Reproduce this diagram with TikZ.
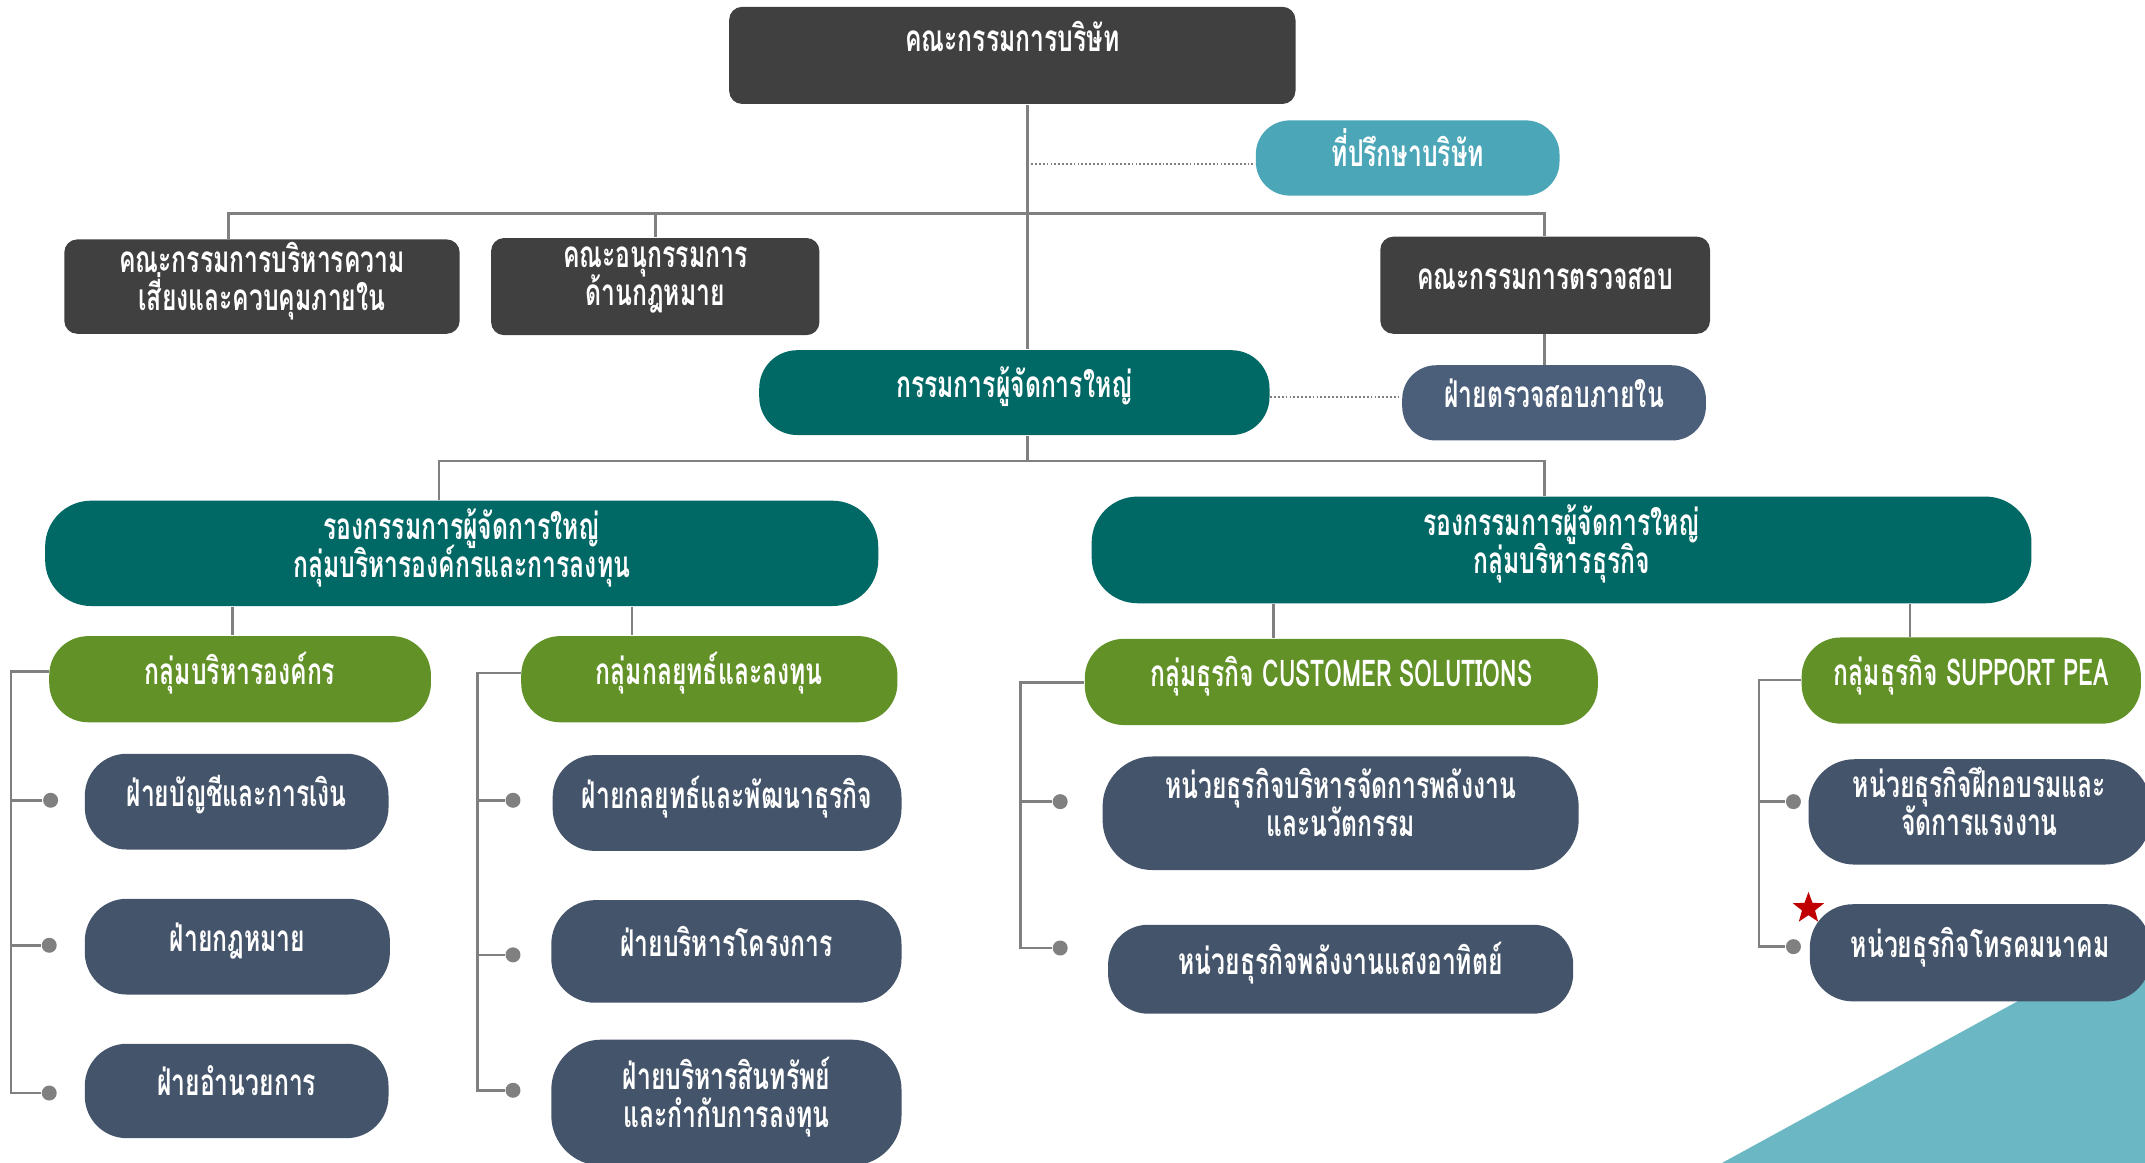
\documentclass[tikz,border=0pt]{standalone}
\usepackage{fontspec}
\newfontfamily\thaifont[Script=Thai,FakeStretch=0.67]{Loma}
\newfontfamily\latinfont[FakeStretch=0.62]{Loma}
\usetikzlibrary{shapes.geometric}

\definecolor{boardgray}{HTML}{404040}
\definecolor{advisorteal}{HTML}{4BA7B8}
\definecolor{gmteal}{HTML}{006865}
\definecolor{groupgreen}{HTML}{629128}
\definecolor{unitslate}{HTML}{44546A}
\definecolor{auditslate}{HTML}{4B5F7A}
\definecolor{linegray}{HTML}{808080}
\definecolor{cornerteal}{HTML}{6BB7C3}
\definecolor{starred}{HTML}{C00000}

\newcommand\ux{0.01368cm}
\newcommand\toppad{\vrule width 0pt height 8.5pt depth 0pt\relax}
\newcommand\botpad{\vrule width 0pt height 0pt depth 6pt\relax}

\tikzset{
  sz/.style 2 args={minimum width=#1*\ux, minimum height=#2*\ux},
  org/.style={text=white, align=center, inner sep=0pt,
    font=\thaifont\bfseries\fontsize{10.5}{10.9}\selectfont,
    execute at begin node={\lineskiplimit=-20pt\relax\toppad}, execute at end node={\botpad}},
  board/.style={org, fill=boardgray, rounded corners=0.13cm},
  pill/.style={org, rounded corners=#1},
  link/.style={draw=linegray, line width=0.7pt},
  dotlink/.style={draw=linegray, line width=0.5pt, dash pattern=on 0.5pt off 0.6pt},
  knob/.style={circle, fill=linegray, inner sep=0pt, minimum size=0.15cm},
}

\begin{document}
\begin{tikzpicture}[x=\ux, y=-\ux]
        \useasboundingbox[fill=white] (0,0) rectangle (1568,850);

        % corner decoration
        \fill[cornerteal] (1259,850) -- (1568,681) -- (1568,850) -- cycle;

        % Board and advisors
        \node[board, sz={414}{71}] (board) at (740,40.5) {};
        \node[org] (boardtxt) at (740,34) {คณะกรรมการบริษัท};
        \node[pill=0.34cm, fill=advisorteal, sz={222}{55}] (advisor) at (1029,115.5) {ที่ปรึกษาบริษัท};

        % Committees
        \node[board, sz={289}{69}] (riskcom) at (191.5,209.5) {คณะกรรมการบริหารความ\\เสี่ยงและควบคุมภายใน};
        \node[board, sz={240}{71}] (lawcom) at (479,209.5) {คณะอนุกรรมการ\\ด้านกฎหมาย};
        \node[board, sz={241}{71}] (auditcom) at (1129.5,208.5) {คณะกรรมการตรวจสอบ};
        \node[pill=0.34cm, fill=auditslate, sz={222}{55}] (audit) at (1136,294.5) {ฝ่ายตรวจสอบภายใน};

        % President
        \node[pill=0.38cm, fill=gmteal, sz={373}{62}] (gm) at (741.5,287) {กรรมการผู้จัดการใหญ่};

        % Vice presidents
        \node[pill=0.46cm, fill=gmteal, sz={609}{77}] (vp1) at (337.5,404.5) {รองกรรมการผู้จัดการใหญ่\\กลุ่มบริหารองค์กรและการลงทุน};
        \node[pill=0.46cm, fill=gmteal, sz={687}{78}] (vp2) at (1141.5,402) {รองกรรมการผู้จัดการใหญ่\\กลุ่มบริหารธุรกิจ};

        % Groups
        \node[pill=0.39cm, fill=groupgreen, sz={279}{63}] (g1) at (175.5,496.5) {กลุ่มบริหารองค์กร};
        \node[pill=0.39cm, fill=groupgreen, sz={275}{63}] (g2) at (518.5,496.5) {กลุ่มกลยุทธ์และลงทุน};
        \node[pill=0.39cm, fill=groupgreen, sz={375}{63}] (g3) at (980.5,498.5) {กลุ่มธุรกิจ {\latinfont CUSTOMER SOLUTIONS}};
        \node[pill=0.39cm, fill=groupgreen, sz={248}{63}] (g4) at (1441,497.5) {กลุ่มธุรกิจ {\latinfont SUPPORT PEA}};

        % Departments and business units
        \node[pill=0.42cm, fill=unitslate, sz={222}{70}] (u11) at (173,586) {ฝ่ายบัญชีและการเงิน};
        \node[pill=0.42cm, fill=unitslate, sz={223}{70}] (u12) at (173.5,692) {ฝ่ายกฎหมาย};
        \node[pill=0.42cm, fill=unitslate, sz={222}{69}] (u13) at (173,797.5) {ฝ่ายอำนวยการ};
        \node[pill=0.42cm, fill=unitslate, sz={255}{70}] (u21) at (531.5,587) {ฝ่ายกลยุทธ์และพัฒนาธุรกิจ};
        \node[pill=0.44cm, fill=unitslate, sz={256}{75}] (u22) at (531,695.5) {ฝ่ายบริหารโครงการ};
        \node[pill=0.5cm, fill=unitslate, sz={256}{92}] (u23) at (531,806) {ฝ่ายบริหารสินทรัพย์\\และกำกับการลงทุน};
        \node[pill=0.5cm, fill=unitslate, sz={348}{83}] (u31) at (980,594.5) {หน่วยธุรกิจบริหารจัดการพลังงาน\\และนวัตกรรม};
        \node[pill=0.4cm, fill=unitslate, sz={340}{65}] (u32) at (980,708.5) {หน่วยธุรกิจพลังงานแสงอาทิตย์};
        \node[pill=0.46cm, fill=unitslate, sz={250}{77}] (u41) at (1447,593.5) {หน่วยธุรกิจฝึกอบรมและ\\จัดการแรงงาน};
        \node[pill=0.43cm, fill=unitslate, sz={249}{71}] (u42) at (1447.5,696.5) {หน่วยธุรกิจโทรคมนาคม};

        % knobs on the rails
        \node[knob] (d11) at (37,585) {};
        \node[knob] (d12) at (36,691) {};
        \node[knob] (d13) at (36,799) {};
        \node[knob] (d21) at (375,585) {};
        \node[knob] (d22) at (375,698) {};
        \node[knob] (d23) at (375,797) {};
        \node[knob] (d31) at (775,586) {};
        \node[knob] (d32) at (775,693) {};
        \node[knob] (d41) at (1311,586) {};
        \node[knob] (d42) at (1311,692) {};

        % red star
        \node[star, star points=5, star point ratio=2.4, fill=starred, inner sep=0pt, minimum size=24*\ux] (mark) at (1322,664) {};

        % junction points
        \coordinate (trunk) at (751,156);
        \coordinate (j1) at (167,156);
        \coordinate (j2) at (479,156);
        \coordinate (j3) at (1129,156);
        \coordinate (bar) at (751,337);
        \coordinate (b1) at (321,337);
        \coordinate (b2) at (1129,337);
        \coordinate (k1) at (170,450);
        \coordinate (k2) at (462,450);
        \coordinate (k3) at (931,450);
        \coordinate (k4) at (1396,450);
        \coordinate (r1) at (8,491);
        \coordinate (r2) at (349,492);
        \coordinate (r3) at (746,499);
        \coordinate (r4) at (1286,497);

        % upper tree
        \draw[link] (board.south -| trunk) -- (gm.north -| trunk);
        \draw[link] (j1 |- riskcom.north) -- (j1) -- (j3) -- (j3 |- auditcom.north);
        \draw[link] (j2) -- (j2 |- lawcom.north);
        \draw[dotlink] (trunk |- 0,120) -- (advisor.west |- 0,120);
        \draw[link] (auditcom.south -| j3) -- (audit.north -| j3);
        \draw[dotlink] (gm.east |- 0,290) -- (audit.west |- 0,290);

        % lower tree
        \draw[link] (gm.south -| bar) -- (bar);
        \draw[link] (b1 |- vp1.north) -- (b1) -- (b2) -- (b2 |- vp2.north);
        \draw[link] (k1 |- vp1.south) -- (k1 |- g1.north);
        \draw[link] (k2 |- vp1.south) -- (k2 |- g2.north);
        \draw[link] (k3 |- vp2.south) -- (k3 |- g3.north);
        \draw[link] (k4 |- vp2.south) -- (k4 |- g4.north);

        % rails
        \draw[link] (r1 -| g1.west) -- (r1) |- (d13);
        \draw[link] (r1 |- d11) -- (d11);
        \draw[link] (r1 |- d12) -- (d12);
        \draw[link] (r2 -| g2.west) -- (r2) |- (d23);
        \draw[link] (r2 |- d21) -- (d21);
        \draw[link] (r2 |- d22) -- (d22);
        \draw[link] (r3 -| g3.west) -- (r3) |- (d32);
        \draw[link] (r3 |- d31) -- (d31);
        \draw[link] (r4 -| g4.west) -- (r4) |- (d42);
        \draw[link] (r4 |- d41) -- (d41);
\end{tikzpicture}
\end{document}
